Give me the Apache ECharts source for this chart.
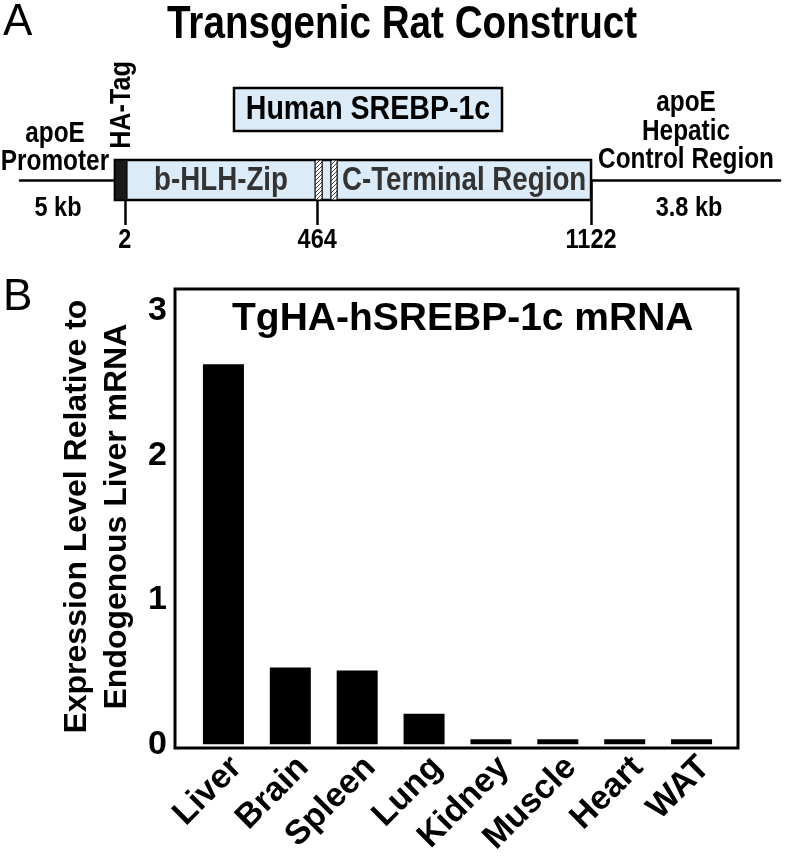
<!DOCTYPE html>
<html>
<head>
<meta charset="utf-8">
<script src="https://cdn.jsdelivr.net/npm/echarts@6/dist/echarts.min.js"></script>
<style>
  html, body { margin: 0; padding: 0; background: #fff; }
  #chart { width: 786px; height: 859px; }
</style>
</head>
<body>
<div id="chart"></div>
<script>
// ---- panel B data ----
const tissues = ['Liver', 'Brain', 'Spleen', 'Lung', 'Kidney', 'Muscle', 'Heart', 'WAT'];
const expression = [2.63, 0.53, 0.51, 0.21, 0.035, 0.035, 0.035, 0.035];
const yTickValues = [0, 1, 2, 3];
const yMinorTickValues = [0.5, 1.5, 2.5];

// ---- panel A construct (residue positions) ----
const residueTicks = [2, 464, 1122];
const constructRange = [-22, 1122];
const haTagRange = [-22, 7];
const hatchedRanges = [[459, 476], [497, 512]];
const domainNames = ['b-HLH-Zip', 'C-Terminal Region'];
const domainRanges = [[7, 459], [512, 1122]];

const SANS = "'Liberation Sans', Arial, sans-serif";
const CONDENSE = 0.84; // Helvetica Condensed look
const LIGHT_BLUE = '#dcebf8';

// diagonal hatch pattern
const hatch = document.createElement('canvas');
hatch.width = 4;
hatch.height = 4;
const hctx = hatch.getContext('2d');
hctx.fillStyle = '#fff';
hctx.fillRect(0, 0, 4, 4);
hctx.strokeStyle = '#444';
hctx.lineWidth = 1;
hctx.beginPath();
hctx.moveTo(0, 4); hctx.lineTo(4, 0);
hctx.moveTo(-1, 1); hctx.lineTo(1, -1);
hctx.moveTo(3, 5); hctx.lineTo(5, 3);
hctx.stroke();

// construct items: [start, end, kind, y]  kind 0 box, 1 HA tag, 2 hatched, 3 domain label, 4 residue label
const constructData = [];
constructData.push([constructRange[0], constructRange[1], 0, 0]);
constructData.push([haTagRange[0], haTagRange[1], 1, 0]);
hatchedRanges.forEach((r) => constructData.push([r[0], r[1], 2, 0]));
domainRanges.forEach((r, i) => constructData.push([r[0], r[1], 3, 0, domainNames[i]]));
residueTicks.forEach((r) => constructData.push([r, r, 4, 0, String(r)]));

const condensedText = (x, y, text, size, extra) => Object.assign({
  type: 'text',
  x: x,
  y: y,
  scaleX: CONDENSE,
  style: {
    text: text,
    fontFamily: SANS,
    fontWeight: 'bold',
    fontSize: size,
    fill: '#000',
    align: 'center',
    verticalAlign: 'middle'
  }
}, extra || {})

const renderConstruct = (params, api) => {
  const kind = api.value(2);
  const p0 = api.coord([api.value(0), 0]);
  const p1 = api.coord([api.value(1), 0]);
  if (kind === 3) {
    const t = condensedText((p0[0] + p1[0]) / 2, p0[1] + 1, constructData[params.dataIndex][4], 33);
    t.style.fill = '#333';
    return t;
  }
  if (kind === 4) {
    return condensedText(p0[0], p0[1] + 60, constructData[params.dataIndex][4], 28);
  }
  const fills = [LIGHT_BLUE, '#1a1a1a', { image: hatch, repeat: 'repeat' }];
  return {
    type: 'rect',
    shape: { x: p0[0], y: p0[1] - 20, width: p1[0] - p0[0], height: 40 },
    style: {
      fill: fills[kind],
      stroke: '#000',
      lineWidth: kind === 0 ? 2.5 : 1.2
    }
  };
};

const chart = echarts.init(document.getElementById('chart'));
chart.setOption({
  backgroundColor: '#fff',
  animation: false,
  grid: [
    { left: 190, right: 61, top: 289, bottom: 111 },
    { left: 20, right: 6, top: 140, height: 40 }
  ],
  xAxis: [
    {
      type: 'category',
      gridIndex: 0,
      data: tissues,
      axisLine: { show: false },
      axisTick: { show: false },
      axisLabel: {
        rotate: 45,
        margin: 5,
        verticalAlign: 'top',
        lineHeight: 37,
        color: '#000',
        fontFamily: SANS,
        fontWeight: 'bold',
        fontSize: 34
      }
    },
    {
      type: 'value',
      gridIndex: 1,
      min: -250,
      max: 1576,
      splitLine: { show: false },
      axisLine: { lineStyle: { color: '#000', width: 2.5 } },
      axisTick: {
        customValues: residueTicks,
        length: 45,
        lineStyle: { color: '#000', width: 2.5 }
      },
      axisLabel: { show: false }
    }
  ],
  yAxis: [
    {
      type: 'value',
      gridIndex: 0,
      min: 0,
      max: 3.15,
      offset: 15,
      splitLine: { show: false },
      axisLine: { show: false },
      axisTick: {
        inside: true,
        customValues: yTickValues,
        length: 21,
        lineStyle: { color: '#000', width: 3 }
      },
      axisLabel: {
        customValues: yTickValues,
        margin: 8,
        color: '#000',
        fontFamily: SANS,
        fontWeight: 'bold',
        fontSize: 34
      },
      name: 'Expression Level Relative to\nEndogenous Liver mRNA',
      nameLocation: 'middle',
      nameGap: 25,
      nameTextStyle: {
        color: '#000',
        fontFamily: SANS,
        fontWeight: 'bold',
        fontSize: 32,
        lineHeight: 40
      }
    },
    {
      type: 'value',
      gridIndex: 0,
      min: 0,
      max: 3.15,
      offset: 15,
      splitLine: { show: false },
      axisLine: { show: false },
      axisLabel: { show: false },
      axisTick: {
        inside: true,
        customValues: yMinorTickValues,
        length: 11,
        lineStyle: { color: '#000', width: 3 }
      }
    },
    {
      type: 'value',
      gridIndex: 1,
      min: 0,
      max: 1,
      show: false
    }
  ],
  series: [
    {
      type: 'bar',
      xAxisIndex: 0,
      yAxisIndex: 0,
      data: expression,
      barWidth: 41,
      itemStyle: { color: '#000' }
    },
    {
      type: 'custom',
      xAxisIndex: 1,
      yAxisIndex: 2,
      data: constructData,
      encode: { x: [0, 1], y: 3 },
      clip: false,
      z: 5,
      renderItem: renderConstruct
    }
  ],
  graphic: [
    // panel letters
    { type: 'text', x: 3, y: 23, style: { text: 'A', fontFamily: SANS, fontSize: 44, fill: '#000', verticalAlign: 'middle' } },
    { type: 'text', x: 3, y: 298, style: { text: 'B', fontFamily: SANS, fontSize: 44, fill: '#000', verticalAlign: 'middle' } },
    // panel A title and labels
    condensedText(402, 25, 'Transgenic Rat Construct', 46),
    { type: 'rect', z: 10, shape: { x: 234, y: 88, width: 268, height: 43 }, style: { fill: LIGHT_BLUE, stroke: '#000', lineWidth: 2.5 } },
    condensedText(368, 110, 'Human SREBP-1c', 34, { z: 11 }),
    condensedText(122, 105, 'HA-Tag', 30, { rotation: Math.PI / 2 }),
    condensedText(55, 134, 'apoE', 29),
    condensedText(55, 162, 'Promoter', 29),
    condensedText(58, 208, '5 kb', 28),
    condensedText(686, 103, 'apoE', 29),
    condensedText(686, 132, 'Hepatic', 29),
    condensedText(686, 160, 'Control Region', 29),
    condensedText(689, 208, '3.8 kb', 28),
    // panel B frame and title
    { type: 'rect', z: 10, shape: { x: 175, y: 289, width: 563, height: 459 }, style: { fill: 'none', stroke: '#000', lineWidth: 3 } },
    { type: 'text', x: 232, y: 319, style: { text: 'TgHA-hSREBP-1c mRNA', fontFamily: SANS, fontWeight: 'bold', fontSize: 39, fill: '#000', verticalAlign: 'middle' } }
  ]
})

window.addEventListener('resize', () => chart.resize())
</script>
</body>
</html>
